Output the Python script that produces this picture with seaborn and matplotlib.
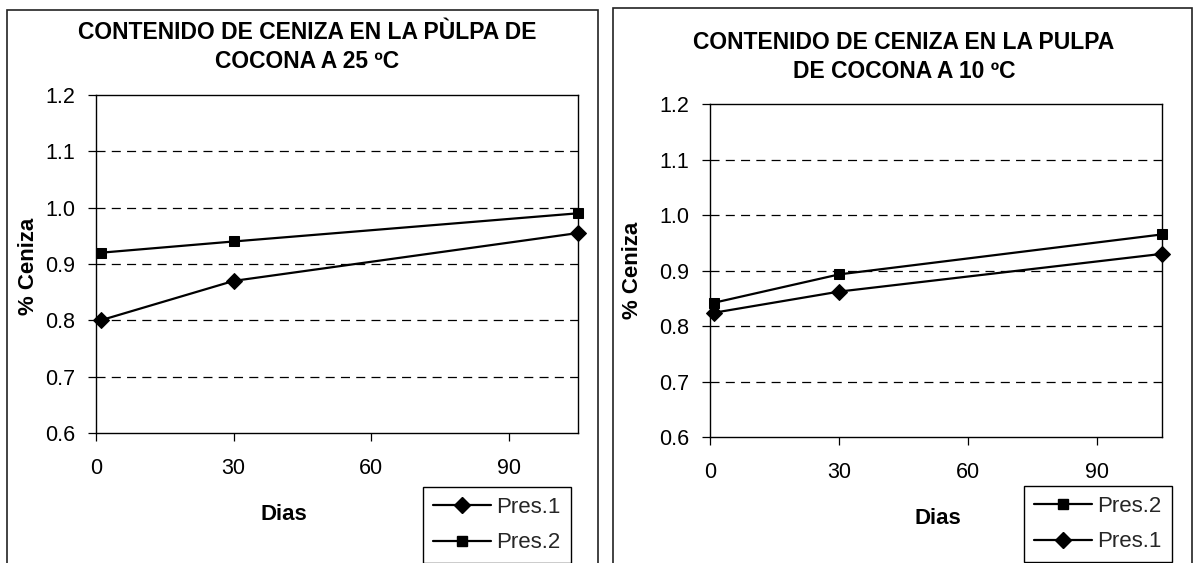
import matplotlib
matplotlib.use("Agg")
import matplotlib.pyplot as plt
import seaborn as sns
import pandas as pd
from matplotlib.lines import Line2D
from matplotlib.patches import Rectangle

# ---------------- data ----------------
dias = [1, 30, 105]
izq_pres1 = [0.80, 0.87, 0.955]
izq_pres2 = [0.92, 0.94, 0.99]
der_pres2 = [0.842, 0.893, 0.965]
der_pres1 = [0.824, 0.862, 0.93]

titulo_izq = "CONTENIDO DE CENIZA EN LA PÙLPA DE\nCOCONA A 25 ºC"
titulo_der = "CONTENIDO DE CENIZA EN LA PULPA\nDE COCONA A 10 ºC"
yticks = [0.6, 0.7, 0.8, 0.9, 1.0, 1.1, 1.2]
xticks = [0, 30, 60, 90]
orden_izq = ["Pres.1", "Pres.2"]
orden_der = ["Pres.2", "Pres.1"]

# ---------------- style ----------------
sns.set_theme(style="white")
plt.rcParams["font.family"] = ["Liberation Sans", "DejaVu Sans"]
plt.rcParams["lines.scale_dashes"] = False

W, H = 1197, 563
fig = plt.figure(figsize=(W / 100, H / 100), dpi=100)
fig.patch.set_facecolor("white")


def px_rect(x0, y0, x1, y1):
    return [x0 / W, 1 - y1 / H, (x1 - x0) / W, (y1 - y0) / H]


markers = {"Pres.1": "D", "Pres.2": "s"}
msize = {"Pres.1": 8.5, "Pres.2": 7.5}


def panel(rect, serie_a, serie_b, titulo, title_xy, ylabel_xy, xlabel_xy,
          leg_xy, orden):
    ax = fig.add_axes(px_rect(*rect))
    df = pd.DataFrame({
        "Dias": dias * 2,
        "Ceniza": serie_a + serie_b,
        "Serie": ["Pres.1"] * 3 + ["Pres.2"] * 3,
    })
    for name in ["Pres.1", "Pres.2"]:
        sub = df[df["Serie"] == name]
        sns.lineplot(data=sub, x="Dias", y="Ceniza", ax=ax, color="black",
                     marker=markers[name], markersize=msize[name],
                     markeredgecolor="black", markerfacecolor="black",
                     linewidth=1.6, legend=False, clip_on=False, zorder=5)
    ax.set_xlim(0, 105)
    ax.set_ylim(0.6, 1.2)
    ax.set_yticks(yticks)
    ax.set_yticklabels([f"{v:.1f}" for v in yticks])
    ax.set_xticks(xticks)
    ax.set_xticklabels([str(v) for v in xticks])
    for v in yticks[1:-1]:
        ax.axhline(v, color="black", lw=0.9, dashes=(6.5, 4.5), zorder=1)
    for s in ax.spines.values():
        s.set_color("black")
        s.set_linewidth(1.0)
    ax.tick_params(axis="both", which="major", direction="out", length=6,
                   width=0.9, color="black", labelsize=15.5,
                   labelcolor="black", left=True, bottom=True)
    ax.tick_params(axis="y", pad=9)
    ax.tick_params(axis="x", pad=12)
    ax.set_xlabel("")
    ax.set_ylabel("")
    fig.text(title_xy[0] / W, 1 - title_xy[1] / H, titulo, ha="center",
             va="center", fontsize=16.5, fontweight="bold", linespacing=1.3,
             color="black")
    fig.text(ylabel_xy[0] / W, 1 - ylabel_xy[1] / H, "% Ceniza",
             rotation=90, ha="center", va="center", fontsize=16,
             fontweight="bold", color="black")
    fig.text(xlabel_xy[0] / W, 1 - xlabel_xy[1] / H, "Dias", ha="center",
             va="center", fontsize=16, fontweight="bold", color="black")
    handles = [Line2D([], [], color="black", lw=1.6, marker=markers[n],
                      markersize=msize[n], markerfacecolor="black",
                      markeredgecolor="black") for n in orden]
    leg = fig.legend(handles, orden, loc="upper left",
                     bbox_to_anchor=(leg_xy[0] / W, 1 - leg_xy[1] / H),
                     bbox_transform=fig.transFigure, frameon=True,
                     fancybox=False, edgecolor="black", framealpha=1,
                     fontsize=16, handlelength=2.6, handletextpad=0.25,
                     borderpad=0.45, labelspacing=0.65, borderaxespad=0,
                     numpoints=1)
    leg.get_frame().set_linewidth(1.0)
    return ax


panel((96, 95, 578, 433), izq_pres1, izq_pres2, titulo_izq, (307, 47),
      (28, 266), (284, 514), (423, 487), orden_izq)
panel((710, 104, 1162, 437), der_pres1, der_pres2, titulo_der, (904, 57),
      (633, 270), (938, 518), (1024, 486), orden_der)

# outer frames of each chart (cut at the bottom of the image)
for (x0, y0, x1) in [(7, 10, 598), (613, 8, 1192)]:
    fig.patches.append(Rectangle((x0 / W, -0.05), (x1 - x0) / W,
                                 1.05 - y0 / H, transform=fig.transFigure,
                                 fill=False, edgecolor="#222222", lw=1.2))

fig.savefig("out.png", dpi=100)
